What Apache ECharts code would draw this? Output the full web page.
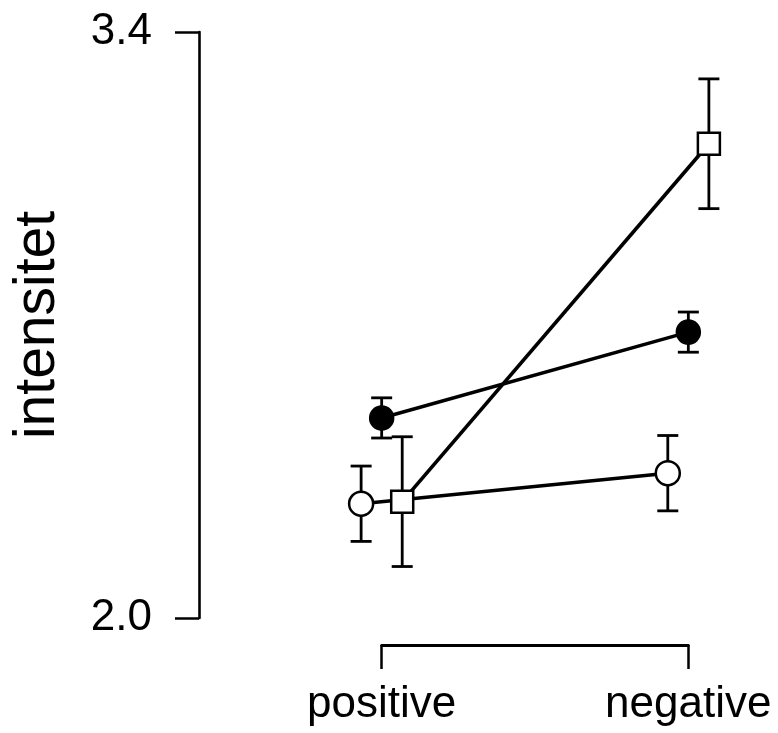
<!DOCTYPE html>
<html>
<head>
<meta charset="utf-8">
<script src="https://cdn.jsdelivr.net/npm/echarts@6/dist/echarts.min.js"></script>
<style>
html,body{margin:0;padding:0;background:#fff;}
#chart{width:778px;height:733px;}
</style>
</head>
<body>
<div id="chart"></div>
<script>
// ---- data ----
const categories = ['positive', 'negative'];
const yTicks = [2.0, 3.4];
const filledMean = [2.478, 2.683];
const filledErr  = [0.048, 0.048];
const openMean   = [2.273, 2.346];
const openErr    = [0.090, 0.090];
const squareMean = [2.278, 3.133];
const squareErr  = [0.155, 0.155];

// ---- styling / layout ----
const FONT = '"Liberation Sans", Arial, Helvetica, sans-serif';
const DODGE = 0.067;           // horizontal dodge in category units
const groups = [
  { name: 'open',   mean: openMean,   err: openErr,   dx: -DODGE, symbol: 'circle', size: 24, fill: '#ffffff' },
  { name: 'filled', mean: filledMean, err: filledErr, dx: 0,      symbol: 'circle', size: 23, fill: '#000000' },
  { name: 'square', mean: squareMean, err: squareErr, dx: DODGE,  symbol: 'rect',   size: 22, fill: '#ffffff' }
];

function pts(g) { return categories.map((c, i) => [i + 1 + g.dx, g.mean[i]]); }
function errs(g) { return categories.map((c, i) => [i + 1 + g.dx, g.mean[i] - g.err[i], g.mean[i] + g.err[i]]); }

const series = [];
groups.forEach(g => {
  series.push({
    type: 'line', name: g.name + '-line', xAxisIndex: 0, yAxisIndex: 0,
    data: pts(g), showSymbol: false, symbol: 'none', z: 2, silent: true,
    lineStyle: { color: '#000', width: 3.6 }
  });
});
groups.forEach(g => {
  series.push({
    type: 'custom', name: g.name + '-err', xAxisIndex: 0, yAxisIndex: 0, z: 3, silent: true,
    data: errs(g),
    renderItem: function (params, api) {
      const x = api.value(0);
      const lo = api.coord([x, api.value(1)]);
      const hi = api.coord([x, api.value(2)]);
      const hw = 10.5;
      const st = { stroke: '#000', lineWidth: 2.8 };
      return {
        type: 'group',
        children: [
          { type: 'line', shape: { x1: lo[0], y1: lo[1], x2: hi[0], y2: hi[1] }, style: st },
          { type: 'line', shape: { x1: lo[0] - hw, y1: lo[1], x2: lo[0] + hw, y2: lo[1] }, style: st },
          { type: 'line', shape: { x1: hi[0] - hw, y1: hi[1], x2: hi[0] + hw, y2: hi[1] }, style: st }
        ]
      };
    }
  });
});
groups.forEach(g => {
  series.push({
    type: 'scatter', name: g.name + '-pts', xAxisIndex: 0, yAxisIndex: 0, z: 4, silent: true, clip: false,
    data: pts(g), symbol: g.symbol, symbolSize: g.size,
    itemStyle: { color: g.fill, borderColor: '#000', borderWidth: 2.5, opacity: 1 }
  });
});

const chart = echarts.init(document.getElementById('chart'), null, { renderer: 'canvas' });
chart.setOption({
  animation: false,
  backgroundColor: '#ffffff',
  grid: [
    { left: 351, right: 59, top: 32, height: 586, containLabel: false },
    { left: 381.7, right: 89.7, top: 600, height: 45, containLabel: false }
  ],
  xAxis: [
    { type: 'value', gridIndex: 0, min: 0.9, max: 2.1, show: false },
    {
      type: 'value', gridIndex: 1, min: 1, max: 2, interval: 1, position: 'bottom',
      axisLine: { show: true, lineStyle: { color: '#000', width: 2.8 } },
      axisTick: { show: true, length: 24, lineStyle: { color: '#000', width: 2.5 } },
      splitLine: { show: false },
      axisLabel: {
        show: true, margin: 38, fontSize: 44, color: '#000', fontFamily: FONT,
        showMinLabel: true, showMaxLabel: true,
        formatter: v => categories[Math.round(v) - 1] || ''
      }
    }
  ],
  yAxis: [
    {
      type: 'value', gridIndex: 0, min: 2.0, max: 3.4, position: 'left', offset: 152,
      axisLine: { show: true, lineStyle: { color: '#000', width: 2.6 } },
      axisTick: { show: true, length: 24, lineStyle: { color: '#000', width: 2.5 }, customValues: yTicks },
      splitLine: { show: false },
      axisLabel: {
        show: true, margin: 47, fontSize: 44, color: '#000', fontFamily: FONT,
        customValues: yTicks, formatter: v => v.toFixed(1)
      },
      name: 'intensitet', nameLocation: 'middle', nameRotate: 90, nameGap: 132,
      nameTextStyle: { fontSize: 57, color: '#000', fontFamily: FONT }
    },
    { type: 'value', gridIndex: 1, min: 0, max: 1, show: false }
  ],
  series: series
});
</script>
</body>
</html>
